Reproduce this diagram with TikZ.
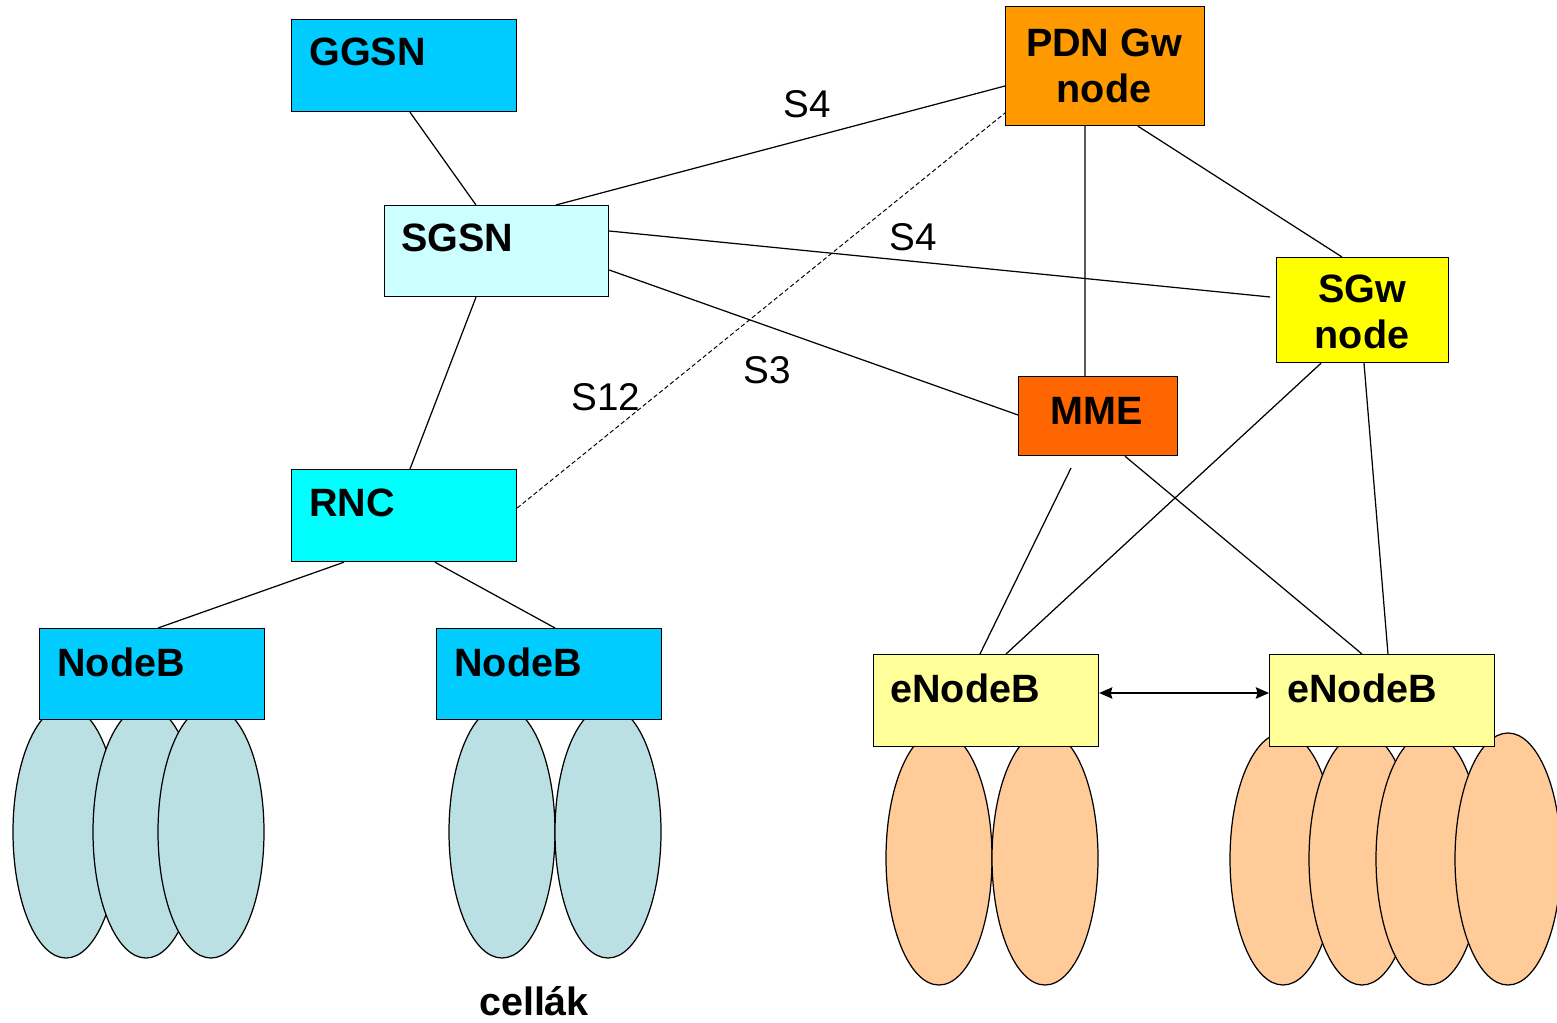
\documentclass[tikz,border=0pt]{standalone}
\usepackage{fontspec}
\setmainfont{Liberation Sans}
\usetikzlibrary{arrows.meta}
\definecolor{ggsnblue}{HTML}{00CCFF}
\definecolor{sgsncyan}{HTML}{CCFFFF}
\definecolor{rnccyan}{HTML}{00FFFF}
\definecolor{pdnorange}{HTML}{FF9900}
\definecolor{mmeorange}{HTML}{FF6600}
\definecolor{sgwyellow}{HTML}{FFFF00}
\definecolor{enbyellow}{HTML}{FFFF99}
\definecolor{umtscell}{HTML}{BBE0E3}
\definecolor{ltecell}{HTML}{FFCC99}
\tikzset{
  box/.style={draw=black, line width=0.7pt, inner sep=0pt, anchor=north west},
  boxtext/.style={font=\fontsize{22.5}{26.5}\selectfont\bfseries, inner sep=0pt},
  iface/.style={font=\fontsize{22}{26}\selectfont, inner sep=0pt},
  link/.style={line width=0.7pt},
  cellshape/.style={draw=black, line width=0.7pt},
}
\begin{document}
\begin{tikzpicture}[x=0.02cm, y=-0.02cm]
\useasboundingbox (0,0) rectangle (1557,1023);

% radio cells (drawn first, boxes sit on top)
\foreach \cx in {66,146,211}
  \draw[cellshape, fill=umtscell] (\cx,832) ellipse [x radius=53, y radius=126];
\foreach \cx in {502,608}
  \draw[cellshape, fill=umtscell] (\cx,832) ellipse [x radius=53, y radius=126];
\foreach \cx in {939,1045}
  \draw[cellshape, fill=ltecell] (\cx,858) ellipse [x radius=53, y radius=127];
\foreach \cx in {1283,1362,1429,1508}
  \draw[cellshape, fill=ltecell] (\cx,859) ellipse [x radius=53, y radius=126];

% network elements
\node[box, fill=ggsnblue, minimum width=4.5cm, minimum height=1.84cm] (ggsn) at (291,19) {};
\node[boxtext, anchor=base west] (ggsnt) at (309,66) {GGSN};

\node[box, fill=sgsncyan, minimum width=4.48cm, minimum height=1.82cm] (sgsn) at (384,205) {};
\node[boxtext, anchor=base west] (sgsnt) at (401,252) {SGSN};

\node[box, fill=rnccyan, minimum width=4.5cm, minimum height=1.84cm] (rnc) at (291,469) {};
\node[boxtext, anchor=base west] (rnct) at (309,516) {RNC};

\node[box, fill=ggsnblue, minimum width=4.5cm, minimum height=1.82cm] (nb1) at (39,628) {};
\node[boxtext, anchor=base west] (nb1t) at (57,676) {NodeB};

\node[box, fill=ggsnblue, minimum width=4.5cm, minimum height=1.82cm] (nb2) at (436,628) {};
\node[boxtext, anchor=base west] (nb2t) at (454,676) {NodeB};

\node[box, fill=pdnorange, minimum width=3.98cm, minimum height=2.38cm] (pdn) at (1005,6) {};
\node[boxtext, align=center] (pdnt) at (1104,66) {PDN Gw\\node};

\node[box, fill=sgwyellow, minimum width=3.44cm, minimum height=2.1cm] (sgw) at (1276,257) {};
\node[boxtext, align=center] (sgwt) at (1362,312) {SGw\\node};

\node[box, fill=mmeorange, minimum width=3.18cm, minimum height=1.58cm] (mme) at (1018,376) {};
\node[boxtext] (mmet) at (1097,411) {MME};

\node[box, fill=enbyellow, minimum width=4.5cm, minimum height=1.84cm] (enb1) at (873,654) {};
\node[boxtext, anchor=base west] (enb1t) at (890,702) {eNodeB};

\node[box, fill=enbyellow, minimum width=4.5cm, minimum height=1.84cm] (enb2) at (1269,654) {};
\node[boxtext, anchor=base west] (enb2t) at (1287,702) {eNodeB};

% free end of the MME - eNodeB link
\coordinate (mmefoot) at (1071,468);

% interfaces
\draw[link] ([xshift=2.38cm]ggsn.south west) -- ([xshift=1.84cm]sgsn.north west);
\draw[link] ([xshift=3.44cm]sgsn.north west) -- ([yshift=-1.6cm]pdn.north west);
\draw[link] ([yshift=-0.52cm]sgsn.north east) -- ([yshift=-0.8cm, xshift=-0.12cm]sgw.north west);
\draw[link] ([yshift=-1.3cm]sgsn.north east) -- ([yshift=-0.78cm]mme.north west);
\draw[link] ([xshift=1.84cm]sgsn.south west) -- ([xshift=2.38cm]rnc.north west);
\draw[link, dash pattern=on 2.5pt off 1.5pt, line width=0.55pt] ([yshift=-0.78cm]rnc.north east) -- ([yshift=-2.14cm]pdn.north west);
\draw[link] ([xshift=1.6cm]pdn.south west) -- ([xshift=1.34cm]mme.north west);
\draw[link] ([xshift=2.66cm]pdn.south west) -- ([xshift=1.32cm]sgw.north west);
\draw[link] (mmefoot) -- ([xshift=2.14cm]enb1.north west);
\draw[link] ([xshift=2.14cm]mme.south west) -- ([xshift=1.86cm]enb2.north west);
\draw[link] ([xshift=0.9cm]sgw.south west) -- ([xshift=2.66cm]enb1.north west);
\draw[link] ([xshift=1.76cm]sgw.south west) -- ([xshift=2.38cm]enb2.north west);
\draw[link] ([xshift=1.06cm]rnc.south west) -- ([xshift=2.38cm]nb1.north west);
\draw[link] ([xshift=2.88cm]rnc.south west) -- ([xshift=2.38cm]nb2.north west);
\draw[line width=0.8pt, {Stealth[length=7.5pt,width=6.5pt,inset=1pt]}-{Stealth[length=7.5pt,width=6.5pt,inset=1pt]}]
  ([yshift=-0.78cm]enb1.north east) -- ([yshift=-0.78cm]enb2.north west);

% interface labels
\node[iface] (s4a) at (807,104) {S4};
\node[iface] (s4b) at (913,237) {S4};
\node[iface] (s3) at (767,370) {S3};
\node[iface] (s12) at (606,397) {S12};
\node[boxtext] (cells) at (534,1001) {cellák};
\end{tikzpicture}
\end{document}
